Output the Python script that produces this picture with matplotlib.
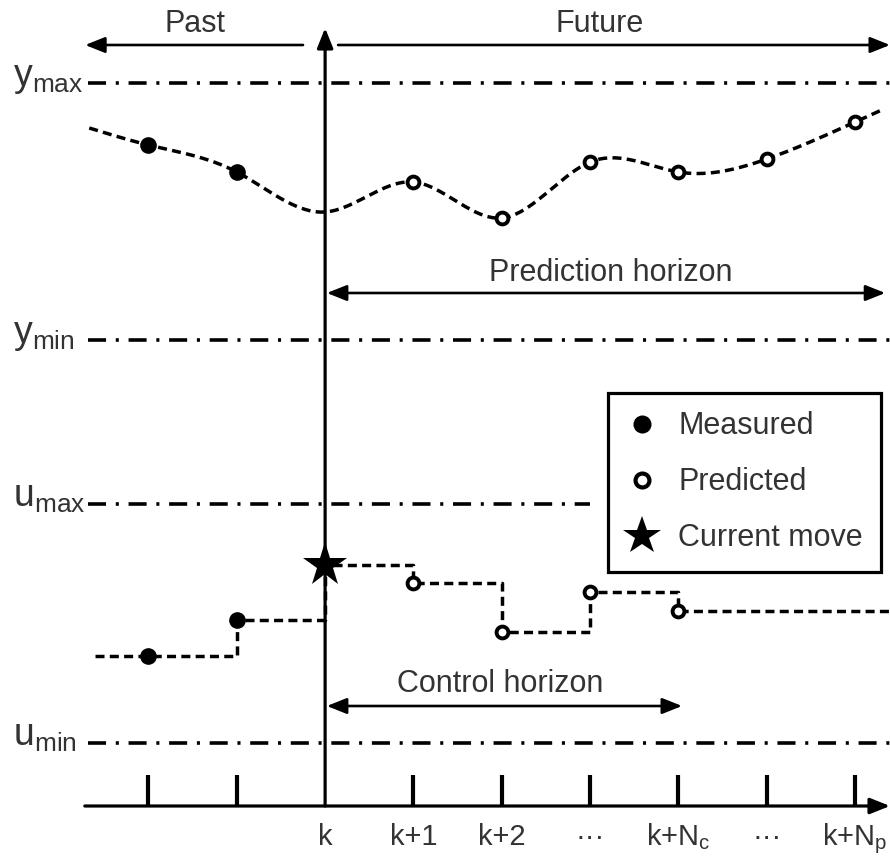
import numpy as np
import matplotlib
matplotlib.use('Agg')
import matplotlib.pyplot as plt
from matplotlib.lines import Line2D

plt.rcParams['font.family'] = ['Liberation Sans', 'DejaVu Sans']
plt.rcParams['mathtext.fontset'] = 'custom'
plt.rcParams['mathtext.rm'] = 'Liberation Sans'
plt.rcParams['mathtext.it'] = 'Liberation Sans'
plt.rcParams['lines.scale_dashes'] = False

# ---------------- data (time steps; vertical values in picture units, top = 0) -------------
step_ticks = [-2, -1, 0, 1, 2, 3, 4, 5, 6]
tick_labels = ['', '', 'k', 'k+1', 'k+2', '···', r'k+N$\mathregular{_c}$', '···', r'k+N$\mathregular{_p}$']

# output (y) trajectory
y_meas_t = [-2, -1]
y_meas = [145, 172]
y_now = 212                       # curve value at k (no marker)
y_pred_t = [1, 2, 3, 4, 5, 6]
y_pred = [182, 218, 162, 172, 159, 122]
y_curve_start = (-2.67, 128)
y_curve_end = (6.30, 110)

# input (u) trajectory
u_meas_t = [-2, -1]
u_meas = [656, 620]
u_now = 565                       # current move at k
u_pred_t = [1, 2, 3, 4]
u_pred = [583, 632, 592, 611]
u_start_t = -2.6
u_end_t = 6.39

# constraint levels
constraint_names = [r'$\mathregular{y_{max}}$', r'$\mathregular{y_{min}}$',
                    r'$\mathregular{u_{max}}$', r'$\mathregular{u_{min}}$']
constraint_levels = [83, 340, 504, 743]
constraint_ends = [6.39, 6.39, 3.0, 6.39]

# ---------------- helpers ----------------
def natural_spline(x, y, xs):
    x = np.asarray(x, float); y = np.asarray(y, float)
    n = len(x); h = np.diff(x)
    A = np.zeros((n, n)); b = np.zeros(n)
    A[0, 0] = A[-1, -1] = 1
    for i in range(1, n - 1):
        A[i, i - 1] = h[i - 1]; A[i, i] = 2 * (h[i - 1] + h[i]); A[i, i + 1] = h[i]
        b[i] = 3 * ((y[i + 1] - y[i]) / h[i] - (y[i] - y[i - 1]) / h[i - 1])
    c = np.linalg.solve(A, b)
    idx = np.clip(np.searchsorted(x, xs) - 1, 0, n - 2)
    dx = xs - x[idx]
    bc = (y[1:] - y[:-1]) / h - h * (2 * c[:-1] + c[1:]) / 3
    d = (c[1:] - c[:-1]) / (3 * h)
    return y[idx] + bc[idx] * dx + c[idx] * dx ** 2 + d[idx] * dx ** 3

TXT = '#333333'
FS = 22

fig = plt.figure(figsize=(8.9, 8.56), dpi=100)
ax = fig.add_axes([0, 0, 1, 1])
ax.set_xlim(-3.68, 6.394)
ax.set_ylim(856, 0)
ax.axis('off')

def arrow(x0, y0, x1, y1, style='-|>', lw=1.9):
    ax.annotate('', xy=(x1, y1), xytext=(x0, y0),
                arrowprops=dict(arrowstyle=style + ',head_length=0.6,head_width=0.24',
                                mutation_scale=20, lw=lw, color='black',
                                shrinkA=0, shrinkB=0), zorder=6)

# constraint lines
for name, lev, end in zip(constraint_names, constraint_levels, constraint_ends):
    ax.plot([-2.68, end], [lev, lev], color='black', lw=2.6, dashes=(13, 7, 2.2, 7), zorder=2)
    ax.text(-3.53, lev + 3, name, fontsize=27, color=TXT, ha='left', va='baseline')

# output curve
cx = [y_curve_start[0]] + y_meas_t + [0] + y_pred_t + [y_curve_end[0]]
cy = [y_curve_start[1]] + y_meas + [y_now] + y_pred + [y_curve_end[1]]
xs = np.linspace(cx[0], cx[-1], 600)
ax.plot(xs, natural_spline(cx, cy, xs), color='black', lw=2.5, dashes=(6.5, 3.8), zorder=3)
ax.plot(y_meas_t, y_meas, 'o', color='black', ms=12, mew=0, zorder=5)
ax.plot(y_pred_t, y_pred, 'o', mfc='white', mec='black', ms=8.5, mew=2.8, zorder=5)

# input steps
sx = [u_start_t] + u_meas_t + [0] + u_pred_t + [u_end_t]
sy = [u_meas[0]] + u_meas + [u_now] + u_pred + [u_pred[-1]]
ax.plot(sx, sy, color='black', lw=2.5, dashes=(6.5, 3.8), drawstyle='steps-post', zorder=3)
ax.plot(u_meas_t, u_meas, 'o', color='black', ms=12, mew=0, zorder=5)
ax.plot(u_pred_t, u_pred, 'o', mfc='white', mec='black', ms=8.5, mew=2.8, zorder=5)
ax.plot([0], [u_now], '*', color='black', ms=33, mew=0, zorder=7)

# axes: vertical line at k and time axis
arrow(0, 806, 0, 28, lw=2.3)
arrow(-2.72, 806, 6.394, 806, lw=2.3)
for t in step_ticks:
    if t != 0:
        ax.plot([t, t], [806, 775], color='black', lw=3, solid_capstyle='butt', zorder=4)
for t, lab in zip(step_ticks, tick_labels):
    if lab:
        ax.text(t, 845, lab, fontsize=21, color=TXT, ha='center', va='baseline')

# past / future
arrow(-0.25, 45, -2.716, 45)
arrow(0.147, 45, 6.394, 45)
ax.text(-1.47, 32, 'Past', fontsize=FS, color=TXT, ha='center', va='baseline')
ax.text(3.11, 32, 'Future', fontsize=FS, color=TXT, ha='center', va='baseline')

# horizons
arrow(0.02, 293, 6.34, 293, style='<|-|>')
ax.text(3.23, 281, 'Prediction horizon', fontsize=FS, color=TXT, ha='center', va='baseline')
arrow(0.02, 706, 4.04, 706, style='<|-|>')
ax.text(1.98, 692, 'Control horizon', fontsize=FS, color=TXT, ha='center', va='baseline')

# legend
handles = [
    Line2D([], [], ls='none', marker='o', color='black', ms=13, mew=0),
    Line2D([], [], ls='none', marker='o', mfc='white', mec='black', ms=10, mew=3),
    Line2D([], [], ls='none', marker='*', color='black', ms=29, mew=0),
]
leg = ax.legend(handles, ['Measured', 'Predicted', 'Current move'],
                loc='upper left', bbox_to_anchor=(608 / 890, 1 - 393 / 856),
                bbox_transform=fig.transFigure, fontsize=FS, frameon=True,
                fancybox=False, framealpha=1, edgecolor='black',
                borderpad=0.6, handlelength=1.0, handletextpad=0.7,
                labelspacing=0.85, borderaxespad=0)
leg.get_frame().set_linewidth(2.3)
for t in leg.get_texts():
    t.set_color(TXT)
leg.set_zorder(8)

fig.savefig('out.png', dpi=100)
